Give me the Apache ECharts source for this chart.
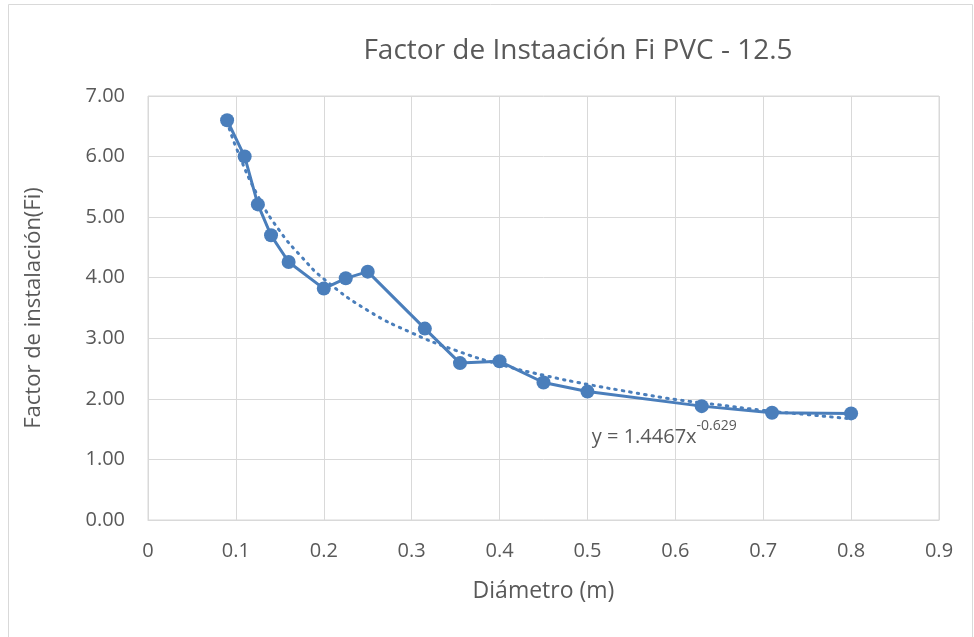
<!DOCTYPE html>
<html><head><meta charset="utf-8">
<script src="https://cdn.jsdelivr.net/npm/echarts@6/dist/echarts.min.js"></script>
<style>html,body{margin:0;padding:0;background:#fff}#c{width:974px;height:637px}</style>
</head><body><div id="c"></div>
<script>
const titleText = 'Factor de Instaación Fi PVC - 12.5';
const xName = 'Diámetro (m)';
const yName = 'Factor de instalación(Fi)';
const diameters = [0.09, 0.11, 0.125, 0.14, 0.16, 0.20, 0.225, 0.25, 0.315, 0.355, 0.40, 0.45, 0.50, 0.63, 0.71, 0.80];
const factors   = [6.60, 6.00, 5.21, 4.70, 4.26, 3.82, 3.99, 4.10, 3.16, 2.59, 2.62, 2.27, 2.12, 1.88, 1.77, 1.76];
const trendX = [0.09, 0.10, 0.125, 0.15, 0.175, 0.20, 0.25, 0.30, 0.35, 0.40, 0.45, 0.50, 0.55, 0.60, 0.65, 0.70, 0.75, 0.80];
const trendY = [6.58, 6.16, 5.35, 4.77, 4.34, 3.98, 3.46, 3.09, 2.80, 2.57, 2.39, 2.24, 2.11, 1.99, 1.90, 1.81, 1.74, 1.67];
const eqMain = 'y = 1.4467x';
const eqExp = '-0.629';
const eqPos = [0.505, 1.43];

const blue = '#4a7ebb';
const txt = '#595959';
const gridCol = '#d9d9d9';
const font = 'Open Sans';

const chart = echarts.init(document.getElementById('c'), null, {renderer: 'canvas'});
chart.setOption({
  backgroundColor: '#fff',
  animation: false,
  title: {
    text: titleText, left: 573, top: 32, textAlign: 'center',
    textStyle: {fontFamily: font, fontSize: 28, fontWeight: 'normal', color: txt}
  },
  graphic: [{
    type: 'rect', shape: {x: 8.5, y: 4.5, width: 964, height: 640},
    style: {fill: 'none', stroke: gridCol, lineWidth: 1}, silent: true, z: -1
  }],
  grid: {left: 148, right: 35, top: 96, bottom: 117, show: true, borderColor: gridCol, borderWidth: 1},
  xAxis: {
    type: 'value', min: 0, max: 0.9, interval: 0.1,
    name: xName, nameLocation: 'middle', nameGap: 60,
    nameTextStyle: {fontFamily: font, fontSize: 23, color: txt},
    axisLine: {show: true, lineStyle: {color: gridCol, width: 1}},
    axisTick: {show: false},
    splitLine: {show: true, lineStyle: {color: gridCol, width: 1}},
    axisLabel: {fontFamily: font, fontSize: 20, color: txt, margin: 21,
      formatter: v => String(Math.round(v * 10) / 10)}
  },
  yAxis: {
    type: 'value', min: 0, max: 7, interval: 1,
    name: yName, nameLocation: 'middle', nameGap: 103,
    nameTextStyle: {fontFamily: font, fontSize: 22, color: txt},
    axisLine: {show: false},
    axisTick: {show: false},
    splitLine: {show: true, lineStyle: {color: gridCol, width: 1}},
    axisLabel: {fontFamily: font, fontSize: 20, color: txt, margin: 23,
      formatter: v => v.toFixed(2)}
  },
  series: [
    {
      type: 'line', name: 'trend', data: trendX.map((x, i) => [x, trendY[i]]),
      smooth: true, showSymbol: false, symbol: 'none',
      lineStyle: {color: blue, width: 3, type: [1.5, 6], cap: 'round'},
      z: 3,
      markPoint: {
        symbol: 'circle', symbolSize: 0,
        data: [{coord: eqPos}],
        label: {
          show: true, position: 'right', distance: 0,
          formatter: '{a|' + eqMain + '}{b|' + eqExp + '}',
          rich: {
            a: {fontFamily: font, fontSize: 20, color: txt, lineHeight: 28, verticalAlign: 'bottom'},
            b: {fontFamily: font, fontSize: 14, color: txt, lineHeight: 28, verticalAlign: 'top', padding: [0, 0, 4, 0]}
          }
        }
      }
    },
    {
      type: 'line', name: 'Fi', data: diameters.map((x, i) => [x, factors[i]]),
      symbol: 'circle', symbolSize: 14,
      lineStyle: {color: blue, width: 3},
      itemStyle: {color: blue},
      z: 4
    }
  ]
});
</script></body></html>
